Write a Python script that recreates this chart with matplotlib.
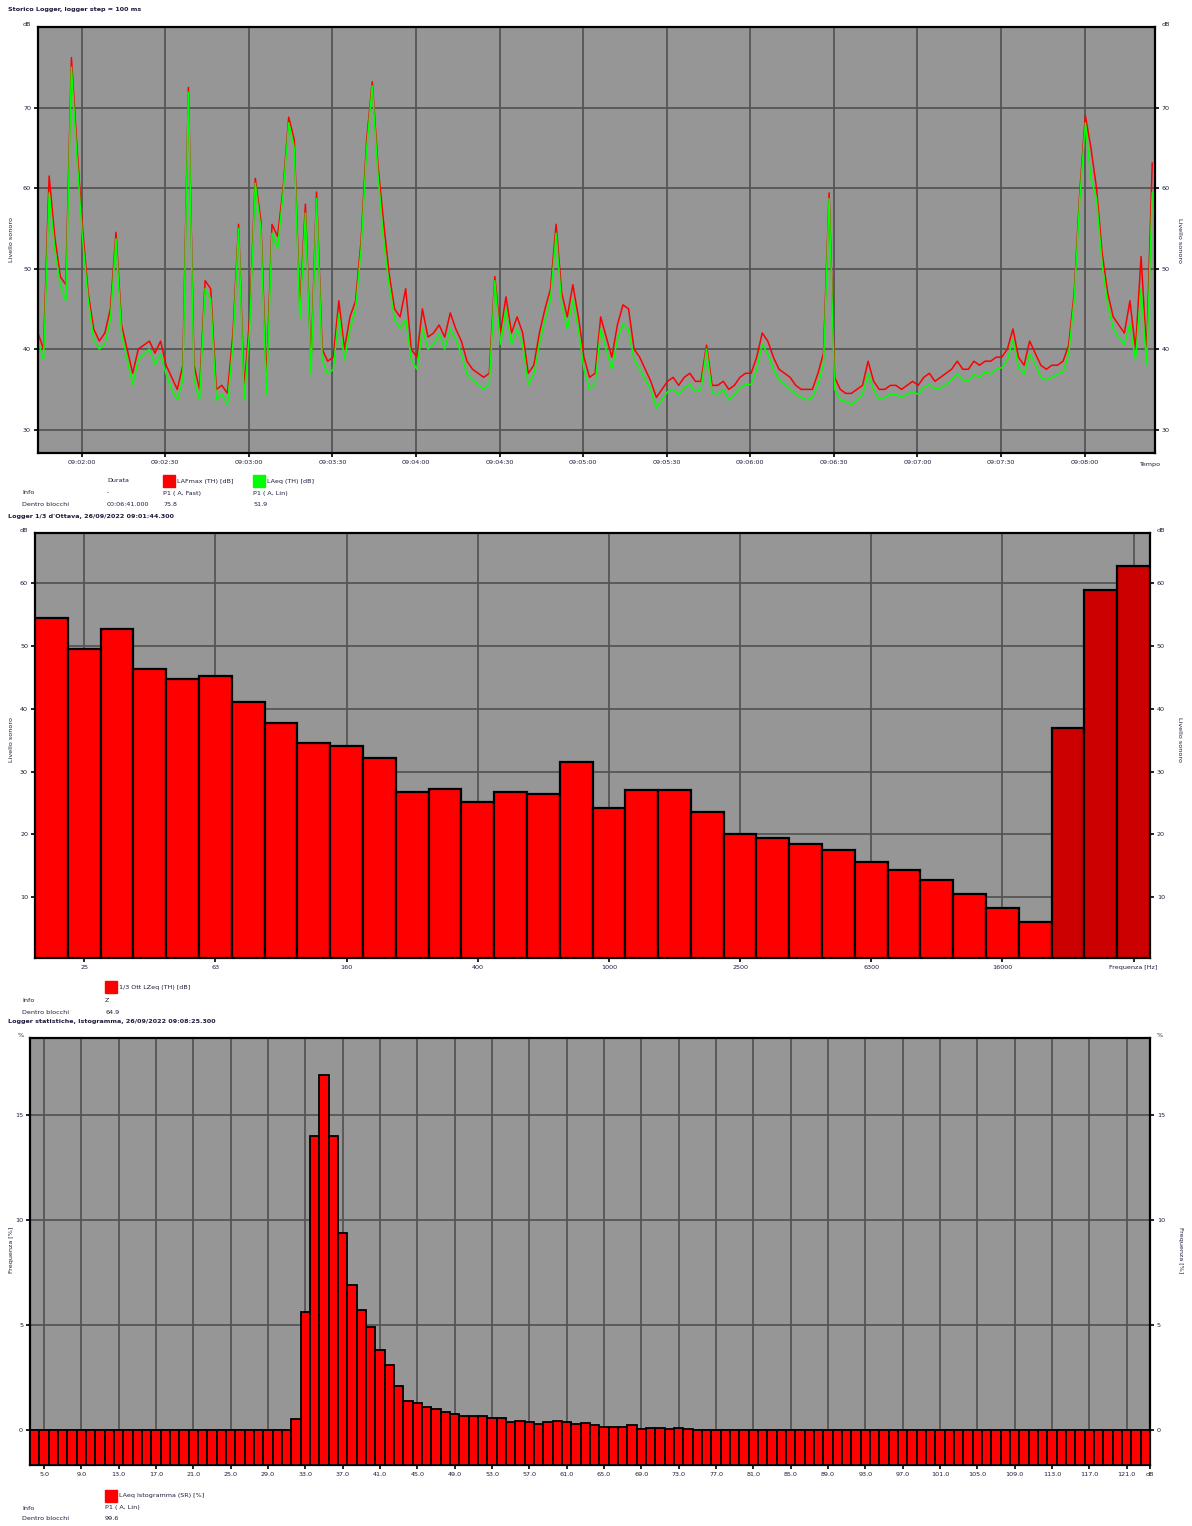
import matplotlib
matplotlib.use('Agg')
import matplotlib.pyplot as plt
from matplotlib.patches import Rectangle

W, H = 1192, 1526
TXT = '#1c1c3c'
BG = '#969696'
GRID = '#555555'
FS = 4.6

# --- Storico logger: secondi dall'inizio (09:01:44.300), campioni letti ogni 2 s ---
t_sec = list(range(0, 401, 2))
laeq = [41.0, 38.7, 59.4, 52.5, 48.0, 46.0, 75.0, 63.7, 53.7, 46.2,
        41.2, 40.0, 40.6, 43.7, 53.7, 41.9, 38.7, 35.6, 38.7, 39.4,
        40.0, 38.1, 39.4, 36.9, 35.0, 33.7, 36.2, 71.9, 36.2, 33.7,
        47.5, 46.2, 33.7, 34.4, 33.1, 40.6, 55.0, 33.7, 42.5, 60.6,
        55.0, 34.4, 54.4, 52.5, 59.4, 68.1, 65.0, 43.7, 56.9, 36.9,
        58.7, 38.7, 36.9, 37.5, 44.4, 38.7, 42.5, 45.0, 52.5, 65.0,
        72.7, 61.9, 53.7, 48.1, 43.7, 42.5, 43.7, 38.7, 37.5, 42.5,
        40.0, 40.6, 41.9, 40.0, 42.5, 41.2, 39.4, 36.9, 36.2, 35.6,
        35.0, 35.6, 48.5, 40.6, 45.0, 40.6, 42.5, 40.6, 35.6, 36.9,
        40.6, 43.7, 46.2, 54.4, 45.6, 42.5, 46.2, 42.5, 37.5, 35.0,
        35.6, 42.5, 40.0, 37.5, 41.2, 43.1, 42.5, 38.7, 37.5, 36.2,
        35.0, 32.7, 33.7, 34.7, 35.0, 34.4, 35.2, 35.6, 34.7, 35.0,
        40.0, 34.6, 34.4, 35.0, 33.7, 34.4, 35.2, 35.6, 35.6, 37.5,
        40.6, 39.4, 37.5, 36.2, 35.6, 35.0, 34.4, 34.0, 33.7, 34.0,
        35.6, 38.1, 58.7, 35.0, 33.7, 33.5, 33.1, 33.7, 34.4, 36.9,
        35.0, 33.7, 34.0, 34.4, 34.4, 34.0, 34.4, 34.7, 34.4, 35.2,
        35.6, 35.0, 35.2, 35.6, 36.2, 36.9, 36.2, 36.0, 36.9, 36.5,
        37.2, 36.9, 37.5, 37.7, 38.7, 41.2, 37.7, 36.9, 39.4, 38.1,
        36.5, 36.2, 36.5, 36.9, 37.2, 39.4, 46.2, 58.7, 68.1, 61.2,
        58.7, 50.6, 45.6, 42.5, 41.5, 40.6, 43.1, 38.7, 47.5, 38.1,
        59.4]
lafmax = [42.0, 40.0, 61.5, 54.0, 49.0, 48.0, 76.2, 65.0, 55.0, 47.0,
          42.5, 41.0, 42.0, 45.0, 54.5, 43.0, 40.0, 37.0, 40.0, 40.5,
          41.0, 39.5, 41.0, 38.0, 36.5, 35.0, 38.0, 72.5, 38.0, 35.0,
          48.5, 47.5, 35.0, 35.5, 34.5, 42.0, 55.5, 35.0, 44.0, 61.2,
          56.0, 36.0, 55.5, 54.0, 60.0, 68.8, 66.0, 45.0, 58.0, 38.0,
          59.5, 40.0, 38.5, 39.0, 46.0, 40.0, 44.0, 46.0, 53.5, 66.0,
          73.2, 63.0, 56.0, 49.5, 45.0, 44.0, 47.5, 40.0, 39.0, 45.0,
          41.5, 42.0, 43.0, 41.5, 44.5, 42.5, 41.0, 38.5, 37.5, 37.0,
          36.5, 37.0, 49.0, 42.0, 46.5, 42.0, 44.0, 42.0, 37.0, 38.0,
          42.0, 45.0, 47.5, 55.5, 47.0, 44.0, 48.0, 44.0, 39.0, 36.5,
          37.0, 44.0, 41.5, 39.0, 43.0, 45.5, 45.0, 40.0, 39.0, 37.5,
          36.0, 34.0, 35.0, 36.0, 36.5, 35.5, 36.5, 37.0, 36.0, 36.0,
          40.5, 35.5, 35.5, 36.0, 35.0, 35.5, 36.5, 37.0, 37.0, 39.0,
          42.0, 41.0, 39.0, 37.5, 37.0, 36.5, 35.5, 35.0, 35.0, 35.0,
          37.0, 39.5, 59.4, 36.5, 35.0, 34.5, 34.5, 35.0, 35.5, 38.5,
          36.0, 35.0, 35.0, 35.5, 35.5, 35.0, 35.5, 36.0, 35.5, 36.5,
          37.0, 36.0, 36.5, 37.0, 37.5, 38.5, 37.5, 37.5, 38.5, 38.0,
          38.5, 38.5, 39.0, 39.0, 40.0, 42.5, 39.0, 38.0, 41.0, 39.5,
          38.0, 37.5, 38.0, 38.0, 38.5, 40.5, 47.0, 59.5, 69.0, 65.0,
          60.0, 52.0, 47.0, 44.0, 43.0, 42.0, 46.0, 40.0, 51.5, 39.5,
          63.1]
time_tick_sec = [15.7 + 30 * k for k in range(13)]
time_tick_lbl = ['09:02:00', '09:02:30', '09:03:00', '09:03:30', '09:04:00',
                 '09:04:30', '09:05:00', '09:05:30', '09:06:00', '09:06:30',
                 '09:07:00', '09:07:30', '09:08:00']

# --- Logger 1/3 d'ottava (LZeq) ---
bands = ['20', '25', '31.5', '40', '50', '63', '80', '100', '125', '160', '200',
         '250', '315', '400', '500', '630', '800', '1000', '1250', '1600', '2000',
         '2500', '3150', '4000', '5000', '6300', '8000', '10000', '12500', '16000',
         '20000', 'A', 'C', 'Z']
lzeq = [54.1, 49.2, 52.4, 46.0, 44.4, 44.9, 40.7, 37.5, 34.2, 33.7, 31.8,
        26.4, 27.0, 24.8, 26.4, 26.1, 31.2, 23.9, 26.7, 26.7, 23.2,
        19.7, 19.1, 18.1, 17.2, 15.3, 14.0, 12.4, 10.2, 7.9, 5.7,
        36.6, 58.6, 62.4]
band_ticks = ['25', '63', '160', '400', '1000', '2500', '6300', '16000']

# --- Istogramma LAeq, classi da 1 dB (da 4 a 123 dB) ---
hist_first_db = 4
hist_last_db = 123
hist_nonzero_db = list(range(32, 75))
hist_nonzero_pct = [0.5, 5.6, 14.0, 16.9, 14.0, 9.4, 6.9, 5.7, 4.9, 3.8,
                    3.1, 2.1, 1.4, 1.3, 1.1, 1.0, 0.86, 0.76, 0.67, 0.67,
                    0.67, 0.57, 0.57, 0.38, 0.43, 0.38, 0.29, 0.38, 0.43, 0.38,
                    0.29, 0.33, 0.24, 0.14, 0.14, 0.14, 0.24, 0.05, 0.1, 0.1,
                    0.05, 0.1, 0.05]
hist_ticks_db = list(range(5, 122, 4))


def px_rect(l, t, r, b):
    return [l / W, 1 - b / H, (r - l) / W, (b - t) / H]


def ftext(x, y, s, **kw):
    kw.setdefault('fontsize', FS)
    kw.setdefault('color', TXT)
    kw.setdefault('va', 'center')
    fig.text(x / W, 1 - y / H, s, **kw)


def square(x, y, color):
    fig.patches.append(Rectangle((x / W, 1 - (y + 6) / H), 12 / W, 12 / H,
                                 transform=fig.transFigure, color=color))


def style_axes(ax):
    ax.set_facecolor(BG)
    for sp in ax.spines.values():
        sp.set_color('black')
        sp.set_linewidth(1.6)
    ax.tick_params(axis='both', labelsize=FS, colors='black', labelcolor=TXT,
                   length=3, width=1.2, pad=2)
    ax.tick_params(axis='y', left=True, right=True, labelleft=True, labelright=True)
    ax.grid(True, color=GRID, linewidth=1.3)
    ax.set_axisbelow(True)


def side_labels(ax, unit, ylab, ymid):
    ax.text(-0.006, 1.0, unit, transform=ax.transAxes, fontsize=FS, color=TXT,
            ha='right', va='bottom')
    ax.text(1.006, 1.0, unit, transform=ax.transAxes, fontsize=FS, color=TXT,
            ha='left', va='bottom')
    ftext(12, ymid, ylab, rotation=90, ha='center')
    ftext(1180, ymid, ylab, rotation=270, ha='center')


fig = plt.figure(figsize=(W / 100, H / 100), dpi=100)

# ---------------- grafico 1 ----------------
ftext(8, 9, 'Storico Logger, logger step = 100 ms', fontweight='bold')
ax1 = fig.add_axes(px_rect(38, 27, 1155, 453))
style_axes(ax1)
ax1.plot(t_sec, lafmax, color='#ff0000', linewidth=1.1)
ax1.plot(t_sec, laeq, color='#00ff00', linewidth=1.1)
ax1.set_xlim(0, 401)
ax1.set_ylim(27.1, 80)
ax1.set_yticks([30, 40, 50, 60, 70])
ax1.set_xticks(time_tick_sec)
ax1.set_xticklabels(time_tick_lbl)
side_labels(ax1, 'dB', 'Livello sonoro', 240)
ax1.text(0.995, -0.022, 'Tempo', transform=ax1.transAxes, fontsize=FS, color=TXT,
         ha='center', va='top')

ftext(107, 481, 'Durata')
square(163, 481, '#ff0000')
ftext(177, 481, 'LAFmax (TH) [dB]')
square(253, 481, '#00ff00')
ftext(267, 481, 'LAeq (TH) [dB]')
ftext(22, 493, 'Info')
ftext(107, 493, '-')
ftext(163, 493, 'P1 ( A, Fast)')
ftext(253, 493, 'P1 ( A, Lin)')
ftext(22, 505, 'Dentro blocchi')
ftext(107, 505, '00:06:41.000')
ftext(163, 505, '75.8')
ftext(253, 505, '51.9')

# ---------------- grafico 2 ----------------
ftext(8, 517, "Logger 1/3 d'Ottava, 26/09/2022 09:01:44.300", fontweight='bold')
ax2 = fig.add_axes(px_rect(35, 533, 1150, 958))
style_axes(ax2)
pos = list(range(len(bands)))
cols = ['#ff0000'] * 31 + ['#cc0000'] * 3
ax2.bar(pos, lzeq, width=1.0, bottom=0.3, color=cols, edgecolor='black',
        linewidth=1.6, zorder=3)
ax2.set_xlim(-0.5, len(bands) - 0.5)
ax2.set_ylim(0.3, 68)
ax2.set_yticks([10, 20, 30, 40, 50, 60])
ax2.set_xticks([bands.index(b) for b in band_ticks] + [33])
ax2.set_xticklabels(band_ticks + ['Frequenza [Hz]'])
side_labels(ax2, 'dB', 'Livello sonoro', 740)

square(105, 987, '#ff0000')
ftext(119, 987, '1/3 Ott LZeq (TH) [dB]')
ftext(22, 1000, 'Info')
ftext(105, 1000, 'Z')
ftext(22, 1012, 'Dentro blocchi')
ftext(105, 1012, '64.9')

# ---------------- grafico 3 ----------------
ftext(8, 1022, 'Logger statistiche, Istogramma, 26/09/2022 09:08:25.300',
      fontweight='bold')
ax3 = fig.add_axes(px_rect(30, 1038, 1150, 1465))
style_axes(ax3)
hist_db = list(range(hist_first_db, hist_last_db + 1))
hist_pct = [0.0] * len(hist_db)
for d, p in zip(hist_nonzero_db, hist_nonzero_pct):
    hist_pct[d - hist_first_db] = p
y0 = -1.67
ax3.bar(hist_db, [p - y0 for p in hist_pct], width=1.0, bottom=y0,
        color='#ff0000', edgecolor='black', linewidth=1.3, zorder=3)
ax3.set_xlim(hist_first_db - 0.5, hist_last_db + 0.5)
ax3.set_ylim(y0, 18.67)
ax3.set_yticks([0, 5, 10, 15])
ax3.set_xticks(hist_ticks_db + [hist_last_db + 0.5])
ax3.set_xticklabels(['%.1f' % v for v in hist_ticks_db] + ['dB'])
side_labels(ax3, '%', 'Frequenza [%]', 1250)

square(105, 1496, '#ff0000')
ftext(119, 1496, 'LAeq Istogramma (SR) [%]')
ftext(22, 1508, 'Info')
ftext(105, 1508, 'P1 ( A, Lin)')
ftext(22, 1519, 'Dentro blocchi')
ftext(105, 1519, '99.6')

fig.savefig('out.png', dpi=100)
